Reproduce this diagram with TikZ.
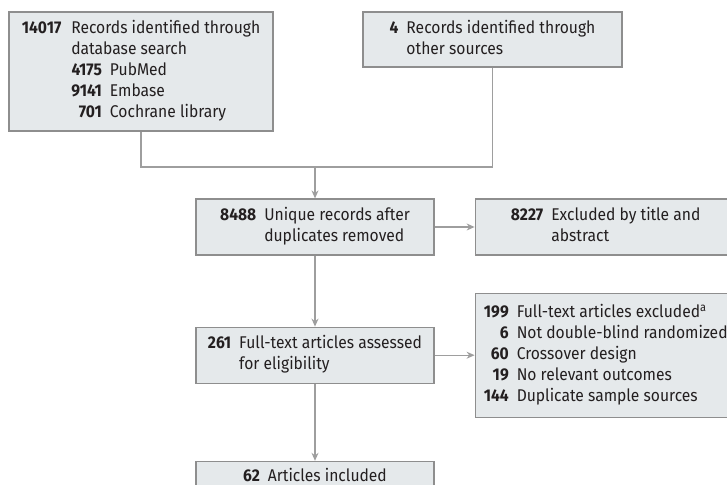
\documentclass[tikz,border=0pt]{standalone}
\usepackage{fontspec}
\setmainfont[FakeStretch=0.92]{Fira Sans}
\usetikzlibrary{positioning, arrows.meta}
\definecolor{boxfill}{HTML}{E5E9EB}
\definecolor{boxline}{HTML}{8E8E8E}
\definecolor{linkline}{HTML}{9E9E9E}
\definecolor{textcol}{HTML}{231F20}

\begin{document}
\begin{tikzpicture}[x=1pt, y=-1pt]
	\tikzset{
	>={Stealth[length=8pt,width=7pt]}, % small gray arrow heads
	node distance=40pt, % gap between a box and the one beside it
	every node/.style={font=\fontsize{17}{21}\selectfont, text=textcol},
	box/.style={draw=boxline, line width=1.2pt, fill=boxfill, minimum width=238pt, minimum height=56pt, inner sep=0pt}, % sets the look of each box
	link/.style={draw=linkline, line width=1.2pt}
	}
	\path[use as bounding box, clip] (0,0) rectangle (727,484);
	\node[box, minimum width=264pt, minimum height=119pt] (search) at (141,71.5) {%
		\begin{tabular}{@{}r@{\hspace{10pt}}r@{\hspace{8pt}}l@{}}
		\textbf{14017} & \multicolumn{2}{@{}l@{}}{Records identified through}\\
		 & \multicolumn{2}{@{}l@{}}{database search}\\
		 & \textbf{4175} & PubMed\\
		 & \textbf{9141} & Embase\\
		 & \textbf{701} & Cochrane library
		\end{tabular}};
	\node[box, minimum width=259pt, minimum height=55pt] (other) at (492.5,39.5) {%
		\begin{tabular}{@{}r@{\hspace{8pt}}l@{}}
		\textbf{4} & Records identified through\\
		 & other sources
		\end{tabular}};
	\node[box] (unique) at (315,227) {%
		\begin{tabular}{@{}r@{\hspace{8pt}}l@{}}
		\textbf{8488} & Unique records after\\
		 & duplicates removed
		\end{tabular}};
	\node[box, right=of unique, minimum width=261pt] (title) {%
		\begin{tabular}{@{}r@{\hspace{8pt}}l@{}}
		\textbf{8227} & Excluded by title and\\
		 & abstract
		\end{tabular}};
	\node[box, below=71pt of unique] (full) {%
		\begin{tabular}{@{}r@{\hspace{8pt}}l@{}}
		\textbf{261} & Full-text articles assessed\\
		 & for eligibility
		\end{tabular}};
	\node[box, right=of full, minimum width=261pt, minimum height=124pt] (fullexcl) {%
		\begin{tabular}{@{}r@{\hspace{8pt}}l@{}}
		\textbf{199} & Full-text articles excluded\textsuperscript{a}\\
		\textbf{6} & Not double-blind randomized\\
		\textbf{60} & Crossover design\\
		\textbf{19} & No relevant outcomes\\
		\textbf{144} & Duplicate sample sources
		\end{tabular}};
	\node[box, below=77pt of full, minimum height=32pt] (included) {%
		\begin{tabular}{@{}r@{\hspace{8pt}}l@{}}
		\textbf{62} & Articles included
		\end{tabular}};

	\coordinate (merge) at (315,167);
	\draw[link] (search) |- (merge) -| (other);
	\draw[link, ->] (merge) -- (unique);
	\draw[link, ->] (unique) -- (title);
	\draw[link, ->] (unique) -- (full);
	\draw[link, ->] (full.east) -- (full.east -| fullexcl.west);
	\draw[link, ->] (full) -- (included);
\end{tikzpicture}
\end{document}
